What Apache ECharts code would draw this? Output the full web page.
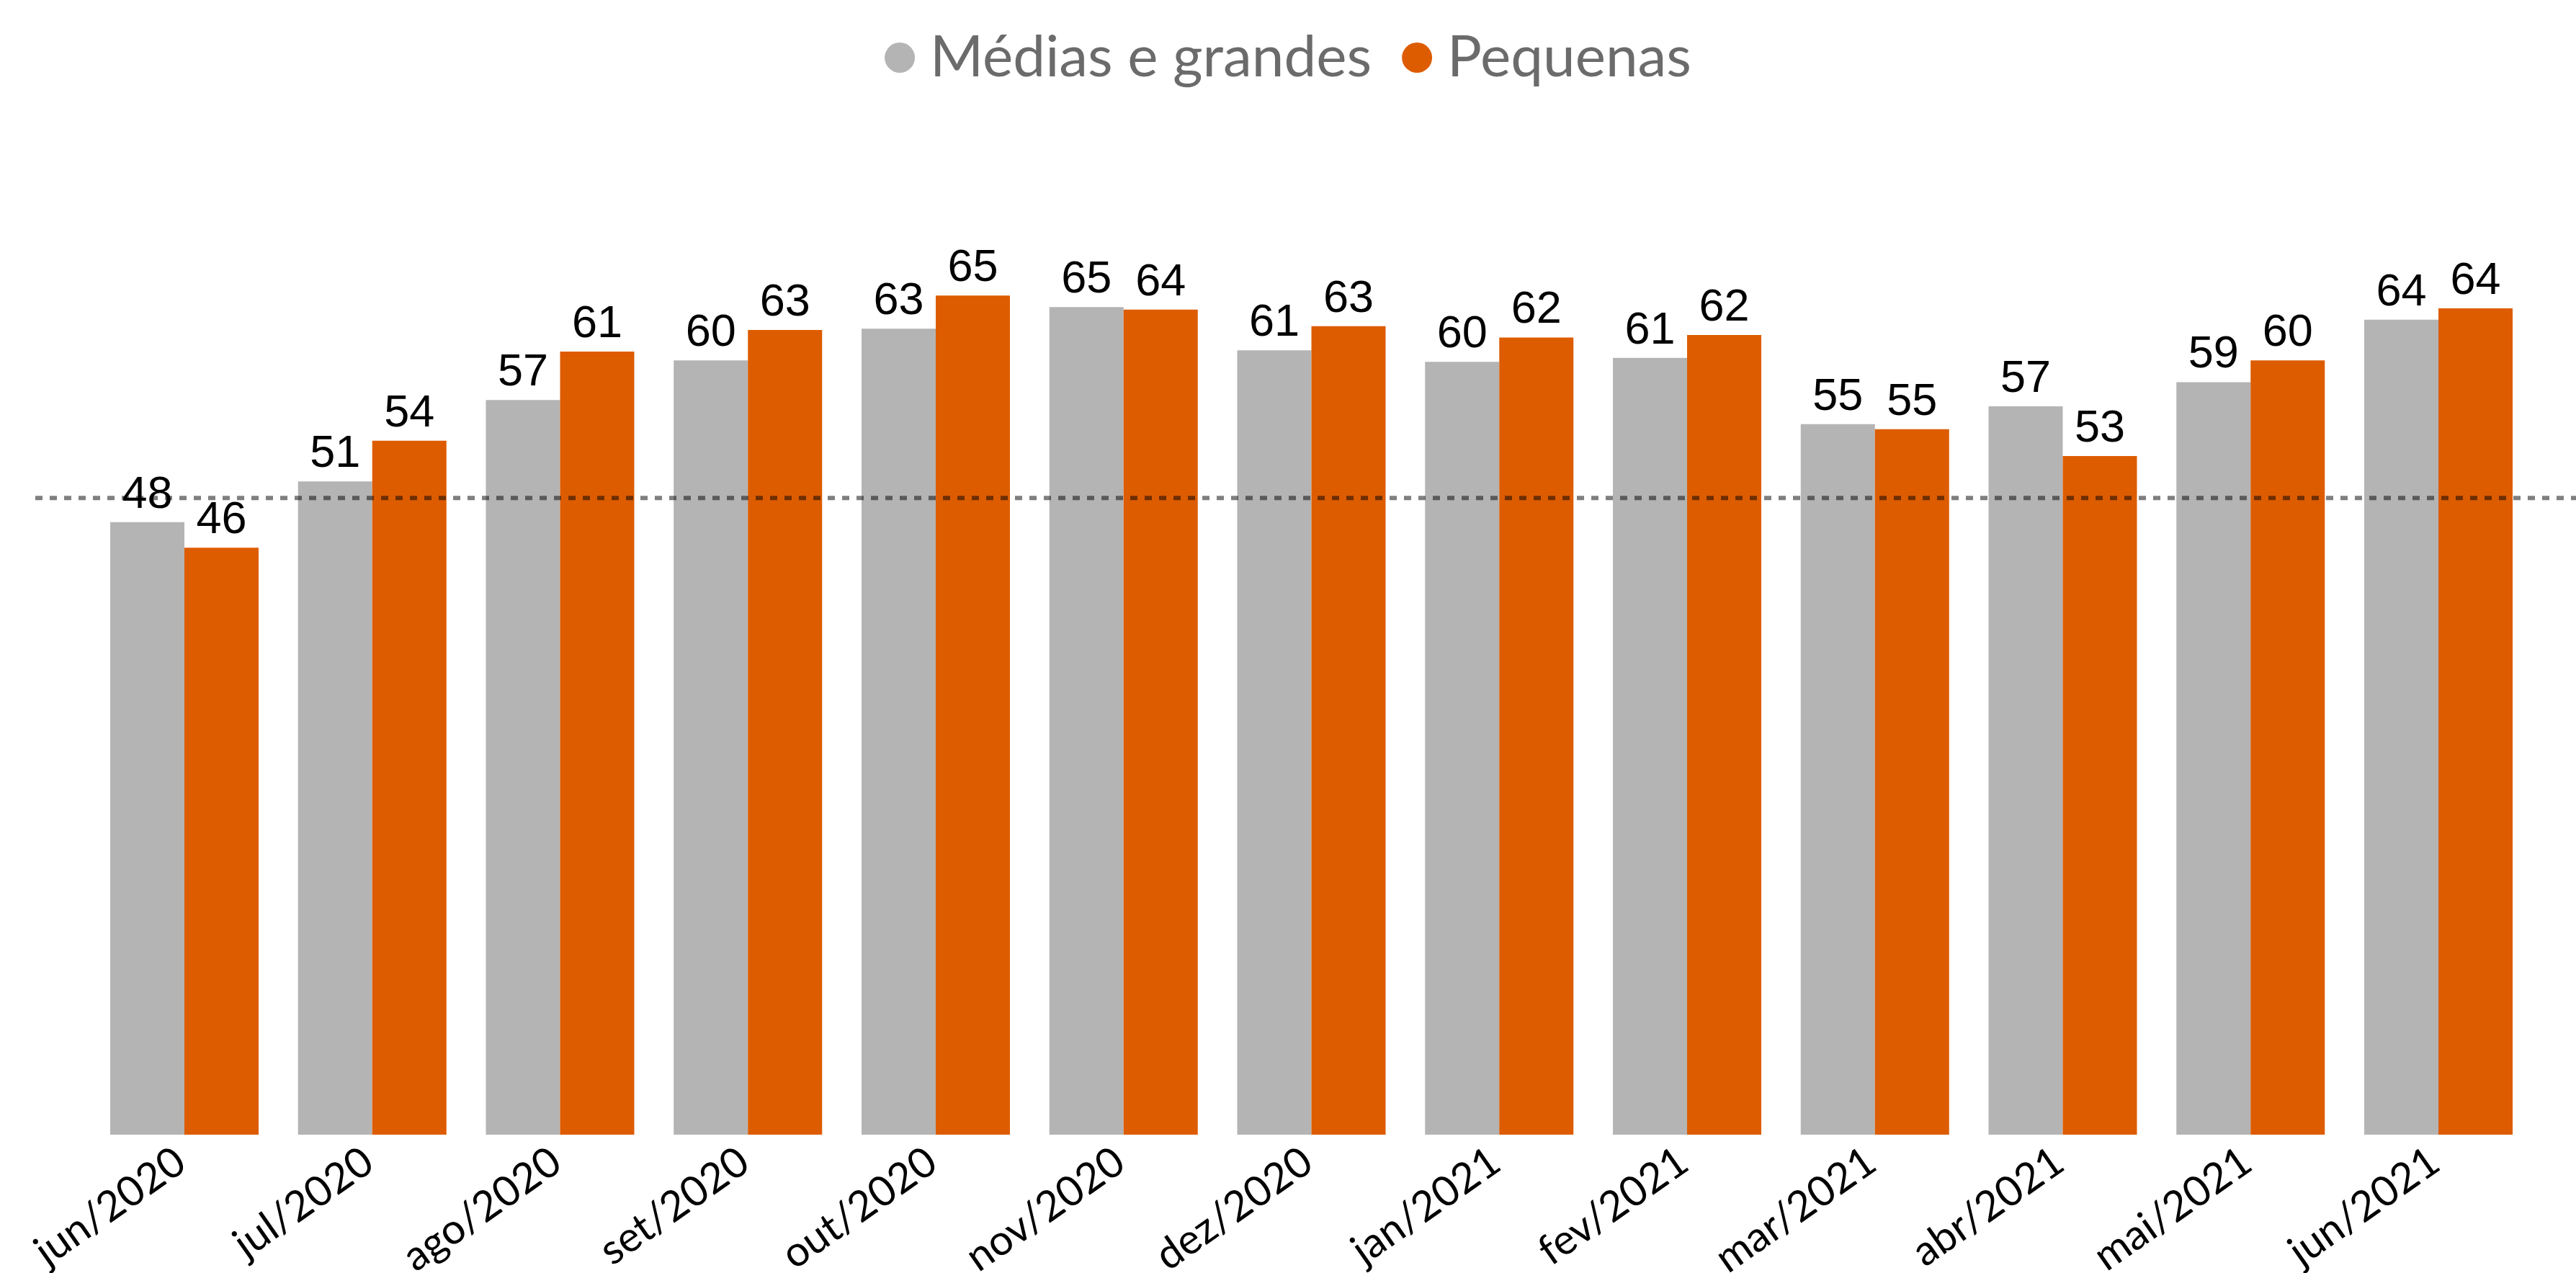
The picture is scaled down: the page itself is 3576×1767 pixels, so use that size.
<!DOCTYPE html>
<html>
<head>
<meta charset="utf-8">
<script src="https://cdn.jsdelivr.net/npm/echarts@6/dist/echarts.min.js"></script>
<style>
html,body{margin:0;padding:0;background:#fff;}
#chart{width:3576px;height:1767px;}
</style>
</head>
<body>
<div id="chart"></div>
<script>
// ---- data ----
var categories = ['jun/2020','jul/2020','ago/2020','set/2020','out/2020','nov/2020','dez/2020','jan/2021','fev/2021','mar/2021','abr/2021','mai/2021','jun/2021'];
var seriesNames = ['Médias e grandes','Pequenas'];
var mediasGrandes = [48.1, 51.3, 57.7, 60.8, 63.3, 65.0, 61.6, 60.7, 61.0, 55.8, 57.2, 59.1, 64.0];
var pequenas      = [46.1, 54.5, 61.5, 63.2, 65.9, 64.8, 63.5, 62.6, 62.8, 55.4, 53.3, 60.8, 64.9];
var mediasGrandesLabels = ['48','51','57','60','63','65','61','60','61','55','57','59','64'];
var pequenasLabels      = ['46','54','61','63','65','64','63','62','62','55','53','60','64'];
var referenceValue = 50;
var yMin = 0, yMax = 80;

var chart = echarts.init(document.getElementById('chart'), null, {renderer:'canvas'});

function barLabel(labels){
  return {
    show:true, position:'top', distance:6,
    color:'#000', fontFamily:'Liberation Sans, Arial, sans-serif', fontSize:63,
    formatter:function(p){ return labels[p.dataIndex]; }
  };
}

var option = {
  animation:false,
  backgroundColor:'#ffffff',
  legend:{
    top:35, left:'center',
    icon:'circle', itemWidth:42, itemHeight:42, itemGap:42,
    textStyle:{color:'#6b6b6b', fontFamily:'Lato, sans-serif', fontSize:80, lineHeight:80, padding:[0,0,0,16]},
    data:seriesNames
  },
  grid:[
    {left:125.6, right:60.6, top:161, bottom:192, containLabel:false, outerBoundsMode:'none'},
    {left:49, right:0, top:161, bottom:192, containLabel:false, outerBoundsMode:'none'}
  ],
  xAxis:[
    {
      type:'category', gridIndex:0, data:categories,
      axisLine:{show:false}, axisTick:{show:false},
      axisLabel:{interval:0, rotate:35, margin:28, padding:[0,6,0,0], color:'#000', fontFamily:'Lato, sans-serif', fontSize:58}
    },
    {type:'value', gridIndex:1, min:0, max:1, show:false}
  ],
  yAxis:[
    {type:'value', gridIndex:0, min:yMin, max:yMax, show:false, splitLine:{show:false}},
    {type:'value', gridIndex:1, min:yMin, max:yMax, show:false, splitLine:{show:false}}
  ],
  series:[
    {
      name:seriesNames[0], type:'bar', xAxisIndex:0, yAxisIndex:0,
      data:mediasGrandes, barWidth:103, barGap:'0%',
      itemStyle:{color:'#b4b4b4'},
      label:barLabel(mediasGrandesLabels), z:2
    },
    {
      name:seriesNames[1], type:'bar', xAxisIndex:0, yAxisIndex:0,
      data:pequenas, barWidth:103, barGap:'0%',
      itemStyle:{color:'#dd5c00'},
      label:barLabel(pequenasLabels), z:2
    },
    {
      name:'ref', type:'line', xAxisIndex:1, yAxisIndex:1,
      data:[[0,referenceValue],[1,referenceValue]],
      symbol:'none', silent:true, z:5,
      lineStyle:{color:'rgba(0,0,0,0.5)', width:6, type:[10,10]}
    }
  ]
};
chart.setOption(option);
</script>
</body>
</html>
